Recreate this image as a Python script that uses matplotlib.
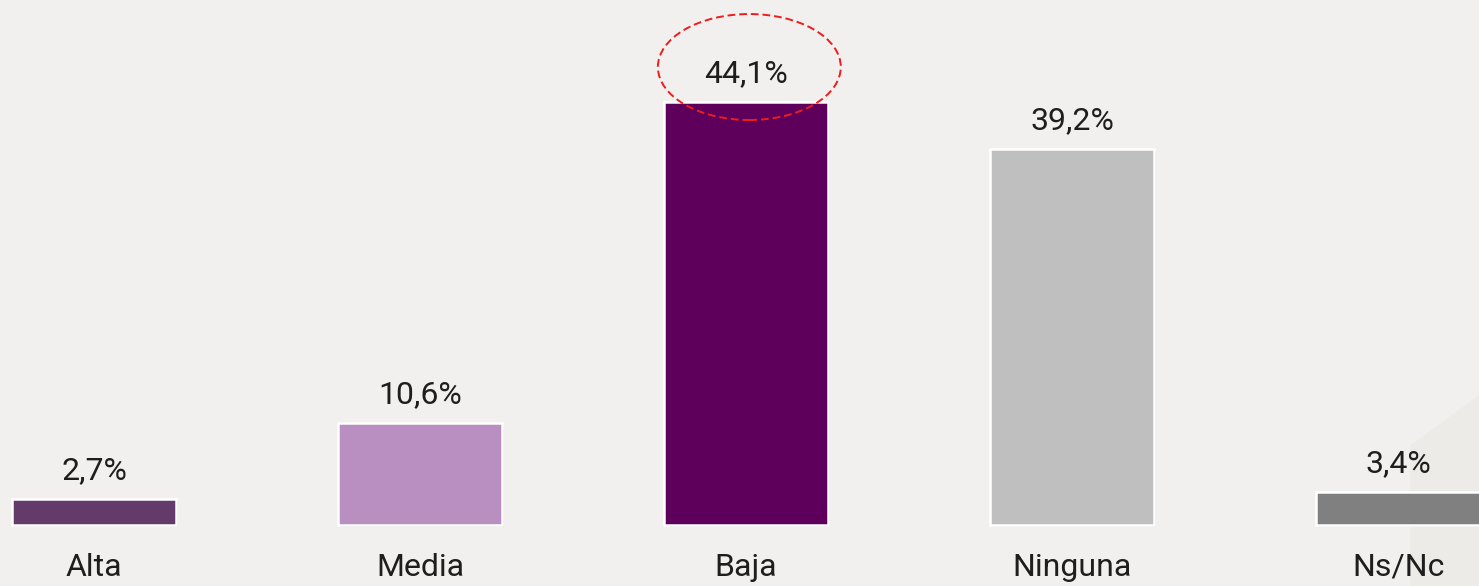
import matplotlib
matplotlib.use("Agg")
import matplotlib.pyplot as plt
from matplotlib.patches import Ellipse, Polygon
import matplotlib.patheffects as pe

categories = ["Alta", "Media", "Baja", "Ninguna", "Ns/Nc"]
values = [2.7, 10.6, 44.1, 39.2, 3.4]
value_labels = ["2,7%", "10,6%", "44,1%", "39,2%", "3,4%"]
colors = ["#643a6b", "#b98fc1", "#5e005b", "#bfbfbf", "#808080"]
highlight_index = 2

BG = "#f2f0ee"
plt.rcParams["font.family"] = ["Roboto", "DejaVu Sans"]

fig = plt.figure(figsize=(14.79, 5.86), dpi=100, facecolor=BG)
ax = fig.add_axes([0, 0, 1, 1])
ax.set_facecolor(BG)

# decorative subtle shape bottom-right
ax.add_patch(Polygon([(4.037, -7), (4.037, 8.3), (4.3, 14.8), (4.3, -7)],
                     closed=True, facecolor="#edebe8", edgecolor="none",
                     transform=ax.transData, zorder=0))

x = list(range(len(categories)))
bars = ax.bar(x, values, width=0.503, color=colors, edgecolor="white",
              linewidth=1.8, zorder=3,
              path_effects=[pe.SimplePatchShadow(offset=(1.5, -1.5), shadow_rgbFace="#b0aeac", alpha=0.5), pe.Normal()])

for xi, v, lab in zip(x, values, value_labels):
    ax.text(xi, v + 1.5, lab, ha="center", va="bottom", fontsize=23,
            fontweight="normal", color="#1e1e1e", zorder=4)

for xi, cat in zip(x, categories):
    ax.text(xi, -4.4, cat, ha="center", va="center", fontsize=23,
            fontweight="normal", color="#1e1e1e", zorder=4)

hv = values[highlight_index]
ax.add_patch(Ellipse((highlight_index + 0.01, hv + 3.65), width=0.561, height=11.05,
                     fill=False, edgecolor="#ee1c1c", linestyle=(0, (4, 2)),
                     linewidth=1.4, zorder=5))

ax.set_xlim(-0.2883, 4.248)
ax.set_ylim(-6.36, 54.74)
ax.axis("off")

fig.savefig("out.png", dpi=100, facecolor=BG)
